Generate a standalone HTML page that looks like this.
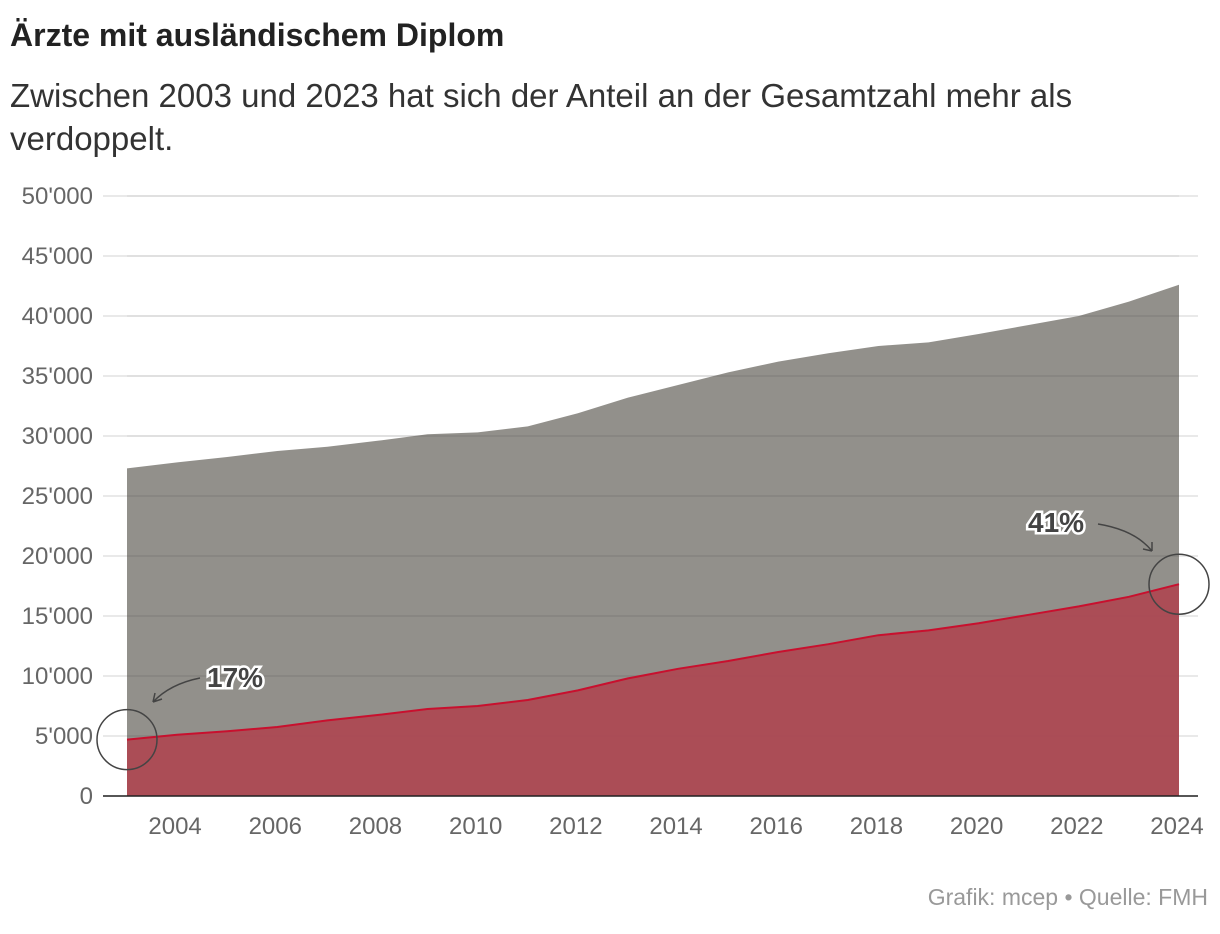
<!DOCTYPE html>
<html><head><meta charset="utf-8"><style>
body{margin:0;background:#fff;font-family:"Liberation Sans",sans-serif;}
#wrap{position:relative;width:1220px;height:934px;overflow:hidden}
h1{position:absolute;left:10px;top:17px;margin:0;font-size:32px;font-weight:bold;color:#222}
.sub{position:absolute;left:10px;top:74px;font-size:33px;line-height:43px;color:#333;width:1110px}
.src{position:absolute;right:12px;top:884px;font-size:23px;color:#999}
</style></head><body>
<div id="wrap">
<h1>Ärzte mit ausländischem Diplom</h1>
<div class="sub">Zwischen 2003 und 2023 hat sich der Anteil an der Gesamtzahl mehr als verdoppelt.</div>
<svg id="chart" width="1220" height="934" style="position:absolute;left:0;top:0"></svg>
<div class="src">Grafik: mcep • Quelle: FMH</div>
</div>
<script>
const years=[2003,2004,2005,2006,2007,2008,2009,2010,2011,2012,2013,2014,2015,2016,2017,2018,2019,2020,2021,2022,2023,2024];
const totalDoctors=[27300,27800,28250,28750,29100,29600,30150,30300,30800,31900,33200,34250,35300,36200,36900,37500,37800,38500,39250,40000,41200,42600];
const foreignDoctors=[4700,5100,5400,5750,6300,6750,7250,7500,8000,8800,9800,10600,11250,12000,12650,13400,13800,14400,15100,15800,16600,17650];
const yTicks=[0,5000,10000,15000,20000,25000,30000,35000,40000,45000,50000];
const yTickLabels=["0","5'000","10'000","15'000","20'000","25'000","30'000","35'000","40'000","45'000","50'000"];
const xTicks=[2004,2006,2008,2010,2012,2014,2016,2018,2020,2022,2024];
const svg=document.getElementById('chart');const NS='http://www.w3.org/2000/svg';
const x=v=>127+(v-2003)*(1179-127)/21;
const y=v=>796-v*600/50000;
function mk(t,a,p){const e=document.createElementNS(NS,t);for(const k in a)e.setAttribute(k,a[k]);(p||svg).appendChild(e);return e;}
yTicks.forEach((t,i)=>{
 const g=mk('line',{x1:103,x2:1198,y1:y(t),y2:y(t),stroke:'#e2e2e2','stroke-width':1.5});
 
 
 const l=mk('text',{x:93,y:y(t)+8,'text-anchor':'end','font-size':24,fill:'#666','font-family':'Liberation Sans'});
 l.textContent=yTickLabels[i];
 
 
});
function areaPath(vals){let d='M'+x(years[0])+','+y(0);years.forEach((yr,i)=>d+=' L'+x(yr)+','+y(vals[i]));return d+' L'+x(years[years.length-1])+','+y(0)+'Z';}
const ga=mk('path',{d:areaPath(totalDoctors),fill:'#7a7872','fill-opacity':0.82});


yTicks.forEach(t=>{if(t>0){const g=mk('line',{x1:127,x2:1179,y1:y(t),y2:y(t),stroke:'#000','stroke-opacity':0.05,'stroke-width':1.5});}});
const ra=mk('path',{d:areaPath(foreignDoctors),fill:'#ab4a55','fill-opacity':0.97});


const rl=mk('polyline',{points:years.map((yr,i)=>x(yr)+','+y(foreignDoctors[i])).join(' '),fill:'none',stroke:'#c8102e','stroke-width':2});


const ax=mk('line',{x1:103,x2:1198,y1:796,y2:796,stroke:'#222','stroke-width':1.5});


xTicks.forEach(t=>{const l=mk('text',{x:x(t)-2,y:834,'text-anchor':'middle','font-size':24,fill:'#666','font-family':'Liberation Sans'});l.textContent=t;
 
 });
const c1=mk('circle',{cx:x(2003),cy:y(foreignDoctors[0]),r:30,fill:'none',stroke:'#444','stroke-width':1.5});


const c2=mk('circle',{cx:x(2024),cy:y(foreignDoctors[21]),r:30,fill:'none',stroke:'#444','stroke-width':1.5});


const a1=mk('path',{d:'M200,678 Q170,684 153,702 M153,702 l2,-9 M153,702 l9,-3',fill:'none',stroke:'#444','stroke-width':1.5});


const a2=mk('path',{d:'M1098,524 Q1135,530 1152,551 M1152,551 l-9,-2 M1152,551 l0,-9',fill:'none',stroke:'#444','stroke-width':1.5});


[[207,687,'17%','annotation-label-17'],[1028,532,'41%','annotation-label-41']].forEach(a=>{
 const t=mk('text',{x:a[0],y:a[1],'font-size':28,'font-weight':'bold',fill:'#444',stroke:'#fff','stroke-width':5,'paint-order':'stroke','font-family':'Liberation Sans'});
 t.textContent=a[2];
 
 
});
</script>
</body></html>
